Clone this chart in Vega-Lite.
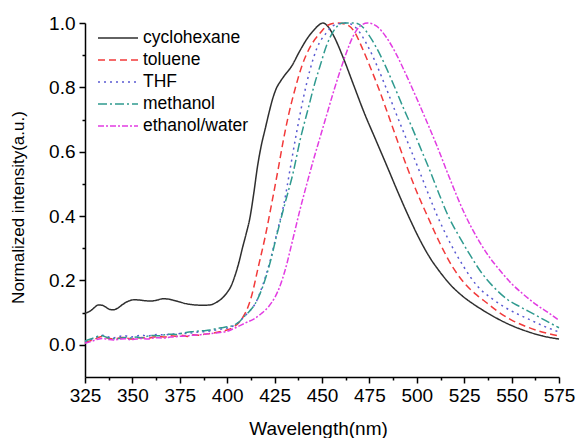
{
"$schema": "https://vega.github.io/schema/vega-lite/v6.json",
"width": 474, "height": 354,
"autosize": "none",
"padding": {"left": 85, "top": 23, "right": 19, "bottom": 61},
"background": "white",
"config": {"view": {"stroke": null}, "font": "Liberation Sans",
 "axis": {"domainColor": "#000", "domainWidth": 1.5, "tickColor": "#000", "tickWidth": 1.5, "labelFont": "Liberation Sans", "labelFontSize": 19, "labelColor": "#000", "titleFont": "Liberation Sans", "titleFontSize": 17, "titleFontWeight": "normal", "titleColor": "#000", "grid": false}},
"data": {"values": [
{"s":"cyclohexane","x":325,"y":0.098},{"s":"cyclohexane","x":328,"y":0.106},{"s":"cyclohexane","x":330,"y":0.116},{"s":"cyclohexane","x":332,"y":0.124},{"s":"cyclohexane","x":334,"y":0.123},{"s":"cyclohexane","x":336,"y":0.117},{"s":"cyclohexane","x":338,"y":0.11},{"s":"cyclohexane","x":340,"y":0.109},{"s":"cyclohexane","x":342,"y":0.113},{"s":"cyclohexane","x":345,"y":0.126},{"s":"cyclohexane","x":348,"y":0.136},{"s":"cyclohexane","x":351,"y":0.14},{"s":"cyclohexane","x":354,"y":0.139},{"s":"cyclohexane","x":357,"y":0.137},{"s":"cyclohexane","x":360,"y":0.136},{"s":"cyclohexane","x":363,"y":0.139},{"s":"cyclohexane","x":366,"y":0.143},{"s":"cyclohexane","x":369,"y":0.142},{"s":"cyclohexane","x":372,"y":0.138},{"s":"cyclohexane","x":375,"y":0.133},{"s":"cyclohexane","x":379,"y":0.127},{"s":"cyclohexane","x":383,"y":0.124},{"s":"cyclohexane","x":387,"y":0.123},{"s":"cyclohexane","x":391,"y":0.124},{"s":"cyclohexane","x":394,"y":0.131},{"s":"cyclohexane","x":397,"y":0.143},{"s":"cyclohexane","x":400,"y":0.163},{"s":"cyclohexane","x":402,"y":0.182},{"s":"cyclohexane","x":404,"y":0.213},{"s":"cyclohexane","x":406,"y":0.252},{"s":"cyclohexane","x":408,"y":0.3},{"s":"cyclohexane","x":410,"y":0.345},{"s":"cyclohexane","x":412,"y":0.395},{"s":"cyclohexane","x":414,"y":0.47},{"s":"cyclohexane","x":416,"y":0.555},{"s":"cyclohexane","x":418,"y":0.62},{"s":"cyclohexane","x":420,"y":0.67},{"s":"cyclohexane","x":422,"y":0.72},{"s":"cyclohexane","x":424,"y":0.765},{"s":"cyclohexane","x":426,"y":0.798},{"s":"cyclohexane","x":428,"y":0.818},{"s":"cyclohexane","x":430,"y":0.835},{"s":"cyclohexane","x":434,"y":0.866},{"s":"cyclohexane","x":438,"y":0.91},{"s":"cyclohexane","x":442,"y":0.95},{"s":"cyclohexane","x":446,"y":0.98},{"s":"cyclohexane","x":448,"y":0.992},{"s":"cyclohexane","x":450.5,"y":1.0},{"s":"cyclohexane","x":453,"y":0.99},{"s":"cyclohexane","x":456,"y":0.962},{"s":"cyclohexane","x":461,"y":0.895},{"s":"cyclohexane","x":466.5,"y":0.81},{"s":"cyclohexane","x":472,"y":0.725},{"s":"cyclohexane","x":479,"y":0.628},{"s":"cyclohexane","x":485,"y":0.545},{"s":"cyclohexane","x":490,"y":0.475},{"s":"cyclohexane","x":496,"y":0.395},{"s":"cyclohexane","x":502,"y":0.322},{"s":"cyclohexane","x":507,"y":0.27},{"s":"cyclohexane","x":512,"y":0.228},{"s":"cyclohexane","x":518,"y":0.185},{"s":"cyclohexane","x":524,"y":0.152},{"s":"cyclohexane","x":530,"y":0.126},{"s":"cyclohexane","x":535,"y":0.107},{"s":"cyclohexane","x":542,"y":0.083},{"s":"cyclohexane","x":550,"y":0.06},{"s":"cyclohexane","x":558,"y":0.042},{"s":"cyclohexane","x":566,"y":0.028},{"s":"cyclohexane","x":575,"y":0.018},
{"s":"toluene","x":325,"y":0.008},{"s":"toluene","x":328,"y":0.013},{"s":"toluene","x":331,"y":0.02},{"s":"toluene","x":334,"y":0.026},{"s":"toluene","x":337,"y":0.021},{"s":"toluene","x":340,"y":0.018},{"s":"toluene","x":343,"y":0.021},{"s":"toluene","x":346,"y":0.024},{"s":"toluene","x":349,"y":0.018},{"s":"toluene","x":352,"y":0.02},{"s":"toluene","x":355,"y":0.023},{"s":"toluene","x":358,"y":0.02},{"s":"toluene","x":361,"y":0.024},{"s":"toluene","x":364,"y":0.026},{"s":"toluene","x":367,"y":0.024},{"s":"toluene","x":370,"y":0.028},{"s":"toluene","x":373,"y":0.027},{"s":"toluene","x":376,"y":0.03},{"s":"toluene","x":379,"y":0.026},{"s":"toluene","x":382,"y":0.031},{"s":"toluene","x":385,"y":0.03},{"s":"toluene","x":388,"y":0.033},{"s":"toluene","x":391,"y":0.035},{"s":"toluene","x":394,"y":0.038},{"s":"toluene","x":397,"y":0.042},{"s":"toluene","x":400,"y":0.046},{"s":"toluene","x":403,"y":0.054},{"s":"toluene","x":406,"y":0.068},{"s":"toluene","x":408.5,"y":0.088},{"s":"toluene","x":411,"y":0.118},{"s":"toluene","x":413,"y":0.155},{"s":"toluene","x":416.4,"y":0.242},{"s":"toluene","x":420,"y":0.335},{"s":"toluene","x":423.5,"y":0.44},{"s":"toluene","x":427,"y":0.55},{"s":"toluene","x":429.6,"y":0.635},{"s":"toluene","x":432.2,"y":0.71},{"s":"toluene","x":435.8,"y":0.795},{"s":"toluene","x":439.3,"y":0.865},{"s":"toluene","x":443.7,"y":0.925},{"s":"toluene","x":448.9,"y":0.968},{"s":"toluene","x":453,"y":0.993},{"s":"toluene","x":458,"y":1.0},{"s":"toluene","x":463,"y":0.995},{"s":"toluene","x":467.4,"y":0.97},{"s":"toluene","x":471,"y":0.925},{"s":"toluene","x":475.3,"y":0.865},{"s":"toluene","x":480,"y":0.795},{"s":"toluene","x":484,"y":0.73},{"s":"toluene","x":489.4,"y":0.64},{"s":"toluene","x":495,"y":0.55},{"s":"toluene","x":500,"y":0.475},{"s":"toluene","x":506,"y":0.395},{"s":"toluene","x":512,"y":0.318},{"s":"toluene","x":519.3,"y":0.238},{"s":"toluene","x":526,"y":0.186},{"s":"toluene","x":532,"y":0.153},{"s":"toluene","x":537,"y":0.13},{"s":"toluene","x":542.2,"y":0.106},{"s":"toluene","x":550,"y":0.077},{"s":"toluene","x":558,"y":0.056},{"s":"toluene","x":566,"y":0.04},{"s":"toluene","x":575,"y":0.028},
{"s":"THF","x":325,"y":0.01},{"s":"THF","x":328,"y":0.016},{"s":"THF","x":331,"y":0.024},{"s":"THF","x":334,"y":0.03},{"s":"THF","x":337,"y":0.025},{"s":"THF","x":340,"y":0.022},{"s":"THF","x":343,"y":0.026},{"s":"THF","x":346,"y":0.028},{"s":"THF","x":349,"y":0.024},{"s":"THF","x":352,"y":0.027},{"s":"THF","x":355,"y":0.03},{"s":"THF","x":358,"y":0.027},{"s":"THF","x":361,"y":0.031},{"s":"THF","x":364,"y":0.032},{"s":"THF","x":367,"y":0.03},{"s":"THF","x":370,"y":0.034},{"s":"THF","x":373,"y":0.033},{"s":"THF","x":376,"y":0.036},{"s":"THF","x":379,"y":0.035},{"s":"THF","x":382,"y":0.038},{"s":"THF","x":385,"y":0.04},{"s":"THF","x":388,"y":0.041},{"s":"THF","x":391,"y":0.043},{"s":"THF","x":394,"y":0.046},{"s":"THF","x":397,"y":0.049},{"s":"THF","x":400,"y":0.052},{"s":"THF","x":403.2,"y":0.059},{"s":"THF","x":406,"y":0.07},{"s":"THF","x":408.5,"y":0.085},{"s":"THF","x":411.5,"y":0.103},{"s":"THF","x":414.7,"y":0.127},{"s":"THF","x":419,"y":0.19},{"s":"THF","x":422.6,"y":0.26},{"s":"THF","x":426.1,"y":0.345},{"s":"THF","x":430,"y":0.44},{"s":"THF","x":433,"y":0.54},{"s":"THF","x":436.6,"y":0.66},{"s":"THF","x":440.1,"y":0.765},{"s":"THF","x":443.7,"y":0.855},{"s":"THF","x":447.2,"y":0.92},{"s":"THF","x":452.4,"y":0.97},{"s":"THF","x":457,"y":0.995},{"s":"THF","x":463,"y":1.0},{"s":"THF","x":467,"y":0.99},{"s":"THF","x":470,"y":0.97},{"s":"THF","x":474,"y":0.93},{"s":"THF","x":478.8,"y":0.87},{"s":"THF","x":483,"y":0.81},{"s":"THF","x":489,"y":0.72},{"s":"THF","x":495.5,"y":0.625},{"s":"THF","x":500,"y":0.56},{"s":"THF","x":505,"y":0.485},{"s":"THF","x":510.5,"y":0.405},{"s":"THF","x":516,"y":0.335},{"s":"THF","x":524.5,"y":0.245},{"s":"THF","x":532,"y":0.182},{"s":"THF","x":540,"y":0.142},{"s":"THF","x":546,"y":0.118},{"s":"THF","x":552.7,"y":0.097},{"s":"THF","x":560,"y":0.077},{"s":"THF","x":567,"y":0.058},{"s":"THF","x":575,"y":0.04},
{"s":"methanol","x":325,"y":0.012},{"s":"methanol","x":328,"y":0.018},{"s":"methanol","x":331,"y":0.025},{"s":"methanol","x":334,"y":0.028},{"s":"methanol","x":337,"y":0.022},{"s":"methanol","x":340,"y":0.019},{"s":"methanol","x":343,"y":0.02},{"s":"methanol","x":346,"y":0.023},{"s":"methanol","x":349,"y":0.021},{"s":"methanol","x":352,"y":0.024},{"s":"methanol","x":355,"y":0.022},{"s":"methanol","x":358,"y":0.027},{"s":"methanol","x":361,"y":0.029},{"s":"methanol","x":364,"y":0.028},{"s":"methanol","x":367,"y":0.031},{"s":"methanol","x":370,"y":0.033},{"s":"methanol","x":373,"y":0.032},{"s":"methanol","x":376,"y":0.036},{"s":"methanol","x":379,"y":0.039},{"s":"methanol","x":382,"y":0.041},{"s":"methanol","x":385,"y":0.043},{"s":"methanol","x":388,"y":0.044},{"s":"methanol","x":391,"y":0.046},{"s":"methanol","x":394,"y":0.05},{"s":"methanol","x":397,"y":0.053},{"s":"methanol","x":400,"y":0.056},{"s":"methanol","x":403.2,"y":0.06},{"s":"methanol","x":406,"y":0.07},{"s":"methanol","x":408.5,"y":0.085},{"s":"methanol","x":411.5,"y":0.103},{"s":"methanol","x":414.7,"y":0.127},{"s":"methanol","x":419,"y":0.185},{"s":"methanol","x":422.6,"y":0.255},{"s":"methanol","x":426.1,"y":0.34},{"s":"methanol","x":430.5,"y":0.44},{"s":"methanol","x":434.9,"y":0.538},{"s":"methanol","x":438.4,"y":0.635},{"s":"methanol","x":442.8,"y":0.736},{"s":"methanol","x":446.3,"y":0.815},{"s":"methanol","x":448.9,"y":0.865},{"s":"methanol","x":452.4,"y":0.93},{"s":"methanol","x":456.9,"y":0.982},{"s":"methanol","x":461,"y":1.0},{"s":"methanol","x":467,"y":1.0},{"s":"methanol","x":471,"y":0.99},{"s":"methanol","x":475,"y":0.96},{"s":"methanol","x":479,"y":0.92},{"s":"methanol","x":483.2,"y":0.87},{"s":"methanol","x":488,"y":0.805},{"s":"methanol","x":493,"y":0.735},{"s":"methanol","x":497.5,"y":0.675},{"s":"methanol","x":501.7,"y":0.615},{"s":"methanol","x":507,"y":0.54},{"s":"methanol","x":512,"y":0.465},{"s":"methanol","x":516.6,"y":0.4},{"s":"methanol","x":523,"y":0.33},{"s":"methanol","x":528,"y":0.28},{"s":"methanol","x":533.3,"y":0.231},{"s":"methanol","x":540,"y":0.183},{"s":"methanol","x":548,"y":0.14},{"s":"methanol","x":554.5,"y":0.118},{"s":"methanol","x":561.5,"y":0.096},{"s":"methanol","x":568,"y":0.075},{"s":"methanol","x":575,"y":0.053},
{"s":"ethanol/water","x":325,"y":0.005},{"s":"ethanol/water","x":328,"y":0.01},{"s":"ethanol/water","x":331,"y":0.016},{"s":"ethanol/water","x":334,"y":0.02},{"s":"ethanol/water","x":337,"y":0.017},{"s":"ethanol/water","x":340,"y":0.015},{"s":"ethanol/water","x":343,"y":0.017},{"s":"ethanol/water","x":346,"y":0.019},{"s":"ethanol/water","x":349,"y":0.016},{"s":"ethanol/water","x":352,"y":0.018},{"s":"ethanol/water","x":355,"y":0.02},{"s":"ethanol/water","x":358,"y":0.018},{"s":"ethanol/water","x":361,"y":0.021},{"s":"ethanol/water","x":364,"y":0.022},{"s":"ethanol/water","x":367,"y":0.021},{"s":"ethanol/water","x":370,"y":0.024},{"s":"ethanol/water","x":373,"y":0.025},{"s":"ethanol/water","x":376,"y":0.027},{"s":"ethanol/water","x":379,"y":0.028},{"s":"ethanol/water","x":382,"y":0.03},{"s":"ethanol/water","x":385,"y":0.031},{"s":"ethanol/water","x":388,"y":0.033},{"s":"ethanol/water","x":391,"y":0.035},{"s":"ethanol/water","x":394,"y":0.037},{"s":"ethanol/water","x":397,"y":0.039},{"s":"ethanol/water","x":400,"y":0.042},{"s":"ethanol/water","x":404,"y":0.052},{"s":"ethanol/water","x":410.3,"y":0.07},{"s":"ethanol/water","x":414,"y":0.08},{"s":"ethanol/water","x":418.2,"y":0.098},{"s":"ethanol/water","x":422,"y":0.12},{"s":"ethanol/water","x":425.2,"y":0.148},{"s":"ethanol/water","x":428,"y":0.185},{"s":"ethanol/water","x":430.5,"y":0.231},{"s":"ethanol/water","x":434.9,"y":0.335},{"s":"ethanol/water","x":438.4,"y":0.42},{"s":"ethanol/water","x":442,"y":0.5},{"s":"ethanol/water","x":445.5,"y":0.575},{"s":"ethanol/water","x":449,"y":0.645},{"s":"ethanol/water","x":452.5,"y":0.715},{"s":"ethanol/water","x":456,"y":0.785},{"s":"ethanol/water","x":459.5,"y":0.85},{"s":"ethanol/water","x":463,"y":0.91},{"s":"ethanol/water","x":466.5,"y":0.96},{"s":"ethanol/water","x":470,"y":0.99},{"s":"ethanol/water","x":474,"y":1.0},{"s":"ethanol/water","x":478.8,"y":0.99},{"s":"ethanol/water","x":484,"y":0.955},{"s":"ethanol/water","x":489,"y":0.905},{"s":"ethanol/water","x":494.7,"y":0.835},{"s":"ethanol/water","x":500,"y":0.765},{"s":"ethanol/water","x":505,"y":0.697},{"s":"ethanol/water","x":510.5,"y":0.62},{"s":"ethanol/water","x":517.5,"y":0.515},{"s":"ethanol/water","x":525.4,"y":0.405},{"s":"ethanol/water","x":531.6,"y":0.335},{"s":"ethanol/water","x":538,"y":0.275},{"s":"ethanol/water","x":543.9,"y":0.231},{"s":"ethanol/water","x":550,"y":0.19},{"s":"ethanol/water","x":556,"y":0.158},{"s":"ethanol/water","x":563,"y":0.125},{"s":"ethanol/water","x":570.3,"y":0.096},{"s":"ethanol/water","x":575,"y":0.076}
]},
"mark": {"type": "line", "strokeWidth": 1.5, "interpolate": "monotone", "clip": false},
"encoding": {
 "x": {"field": "x", "type": "quantitative", "scale": {"domain": [325, 575], "nice": false, "zero": false},
   "axis": {"title": "Wavelength(nm)", "titleFontSize": 19, "values": [325,337.5,350,362.5,375,387.5,400,412.5,425,437.5,450,462.5,475,487.5,500,512.5,525,537.5,550,562.5,575],
     "labelExpr": "datum.value % 25 == 0 ? format(datum.value, 'd') : ''",
     "tickSize": {"condition": {"test": "datum.value % 25 == 0", "value": 6}, "value": 3},
     "labelPadding": 3, "labelFlush": false, "labelOverlap": false,
     "titleX": 233, "titleY": 51, "titleBaseline": "middle", "titleAnchor": "middle"}},
 "y": {"field": "y", "type": "quantitative", "scale": {"domain": [-0.1, 1.0], "nice": false, "zero": false},
   "axis": {"title": "Normalized intensity(a.u.)", "values": [0,0.1,0.2,0.3,0.4,0.5,0.6,0.7,0.8,0.9,1.0],
     "labelExpr": "round(datum.value*10) % 2 == 0 ? format(datum.value, '.1f') : ''",
     "tickSize": {"condition": {"test": "round(datum.value*10) % 2 == 0", "value": 6}, "value": 3},
     "labelPadding": 4, "labelFlush": false, "labelOverlap": false,
     "titleX": -67, "titleY": 184, "titleAngle": -90, "titleBaseline": "middle", "titleAlign": "center"}},
 "color": {"field": "s", "type": "nominal",
   "scale": {"domain": ["cyclohexane","toluene","THF","methanol","ethanol/water"], "range": ["#2f2f2f","#f23a3a","#5a5ad2","#2f9a8f","#e23ce2"]},
   "legend": {"title": null, "orient": "none", "legendX": 22, "legendY": 4, "padding": 0, "symbolType": "M-2,0H2", "symbolSize": 400, "symbolStrokeWidth": 1.5, "labelFont": "Liberation Sans", "labelFontSize": 17.5, "labelColor": "#000", "labelOffset": 14, "rowPadding": 2}},
 "strokeDash": {"field": "s", "type": "nominal",
   "scale": {"domain": ["cyclohexane","toluene","THF","methanol","ethanol/water"], "range": [[1,0],[7,4],[2,4],[9,3,2,3],[6,2,2,2]]},
   "legend": null}
}
}
